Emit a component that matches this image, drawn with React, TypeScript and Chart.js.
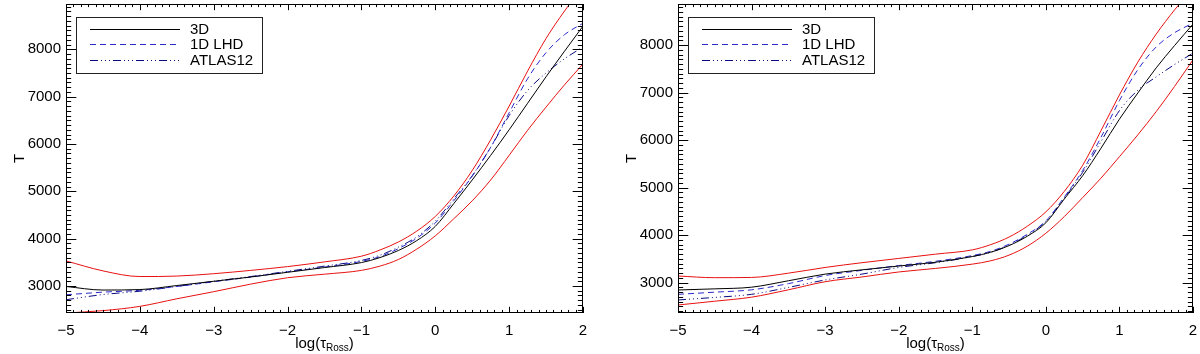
import React, { useEffect, useRef } from "react";
import Chart from "chart.js/auto";

// ---------------- data ----------------
const LOG_TAU = [-5, -4.5, -4, -3.5, -3, -2.5, -2, -1.5, -1, -0.75, -0.5, -0.25, 0, 0.25, 0.5, 0.75, 1, 1.25, 1.5, 1.75, 2];

// left panel
const L_3D = [2990, 2915, 2925, 3010, 3100, 3190, 3290, 3390, 3495, 3600, 3750, 3960, 4260, 4740, 5240, 5760, 6300, 6860, 7420, 7960, 8490];
const L_1D = [2815, 2870, 2910, 2990, 3090, 3190, 3300, 3400, 3520, 3620, 3790, 4010, 4330, 4800, 5320, 5930, 6660, 7380, 7930, 8310, 8550];
const L_ATLAS = [2710, 2820, 2890, 2990, 3100, 3200, 3310, 3420, 3540, 3650, 3820, 4040, 4370, 4840, 5330, 5930, 6600, 7130, 7500, 7800, 8050];
const L_UPPER = [3530, 3320, 3200, 3210, 3260, 3330, 3410, 3510, 3630, 3760, 3930, 4160, 4470, 4900, 5440, 6090, 6800, 7540, 8230, 8810, 9330];
const L_LOWER = [2430, 2480, 2570, 2730, 2880, 3040, 3175, 3250, 3330, 3420, 3560, 3780, 4060, 4420, 4800, 5240, 5760, 6290, 6780, 7250, 7690];

// right panel
const R_3D = [2846, 2870, 2905, 3040, 3180, 3270, 3350, 3430, 3550, 3640, 3780, 3980, 4260, 4760, 5250, 5830, 6440, 6990, 7520, 7990, 8440];
const R_1D = [2755, 2800, 2850, 2980, 3150, 3260, 3360, 3450, 3570, 3660, 3810, 4020, 4300, 4800, 5360, 6060, 6830, 7480, 7960, 8260, 8460];
const R_ATLAS = [2636, 2690, 2755, 2900, 3057, 3180, 3320, 3420, 3550, 3640, 3790, 4000, 4290, 4780, 5320, 5970, 6620, 7050, 7330, 7590, 7830];
const R_UPPER = [3140, 3105, 3110, 3200, 3320, 3420, 3510, 3600, 3690, 3800, 3960, 4190, 4490, 4920, 5470, 6200, 6950, 7640, 8230, 8740, 9200];
const R_LOWER = [2530, 2610, 2695, 2850, 3020, 3120, 3225, 3300, 3390, 3460, 3580, 3770, 4040, 4390, 4790, 5200, 5650, 6110, 6600, 7130, 7690];

const X_TICKS = [-5, -4, -3, -2, -1, 0, 1, 2];
const Y_TICKS = [3000, 4000, 5000, 6000, 7000, 8000];
const X_MINOR_STEP = 0.1;
const Y_MINOR_STEP = 100;
const LEGEND_LABELS = ["3D", "1D LHD", "ATLAS12"];
const Y_TITLE = "T";

const FONT = "'Liberation Sans', Arial, Helvetica, sans-serif";

const fmtTick = (v: number) => (v < 0 ? "\u2212" + Math.abs(v) : String(v));

const idlPlugin = {
  id: "idlFrame",
  afterDatasetsDraw(chart: any) {
    const { ctx, chartArea } = chart;
    const { left, right, top, bottom } = chartArea;
    const xs = chart.scales.x;
    const ys = chart.scales.y;
    const w = right - left;
    const h = bottom - top;
    ctx.save();
    ctx.strokeStyle = "#000";
    ctx.lineWidth = 1;
    // frame
    ctx.strokeRect(Math.round(left) + 0.5, Math.round(top) + 0.5, Math.round(w) - 1, Math.round(h) - 1);
    // ticks
    const xMaj = 0.02 * h;
    const yMaj = 0.02 * w;
    ctx.beginPath();
    const nx = Math.round((xs.max - xs.min) / X_MINOR_STEP);
    for (let i = 0; i <= nx; i++) {
      const v = xs.min + i * X_MINOR_STEP;
      const px = Math.round(xs.getPixelForValue(v)) + 0.5;
      const major = Math.abs(v - Math.round(v)) < 1e-6;
      const len = major ? xMaj : xMaj / 2;
      ctx.moveTo(px, bottom);
      ctx.lineTo(px, bottom - len);
      ctx.moveTo(px, top);
      ctx.lineTo(px, top + len);
    }
    for (let v = Math.ceil(ys.min / Y_MINOR_STEP) * Y_MINOR_STEP; v <= ys.max; v += Y_MINOR_STEP) {
      const py = Math.round(ys.getPixelForValue(v)) + 0.5;
      const major = v % 1000 === 0;
      const len = major ? yMaj : yMaj / 2;
      ctx.moveTo(left, py);
      ctx.lineTo(left + len, py);
      ctx.moveTo(right, py);
      ctx.lineTo(right - len, py);
    }
    ctx.stroke();

    // legend
    const bx = Math.round(left) + 10;
    const by = 17;
    ctx.strokeStyle = "#222";
    ctx.strokeRect(bx + 0.5, by + 0.5, 186, 56);
    const rows = [29.5, 44.5, 60.5];
    ctx.font = `15px ${FONT}`;
    ctx.textBaseline = "middle";
    ctx.textAlign = "left";
    LEGEND_LABELS.forEach((lab, i) => {
      const ds = chart.data.datasets[i];
      ctx.save();
      ctx.strokeStyle = ds.borderColor;
      ctx.lineWidth = 1;
      ctx.setLineDash(ds.borderDash || []);
      ctx.beginPath();
      ctx.moveTo(bx + 14, rows[i]);
      ctx.lineTo(bx + 104, rows[i]);
      ctx.stroke();
      ctx.restore();
      ctx.fillStyle = "#000";
      ctx.fillText(lab, bx + 114, rows[i]);
    });

    // y title
    ctx.save();
    ctx.translate(left - 46, (top + bottom) / 2);
    ctx.rotate(-Math.PI / 2);
    ctx.textAlign = "center";
    ctx.textBaseline = "middle";
    ctx.fillStyle = "#000";
    ctx.font = `15px ${FONT}`;
    ctx.fillText(Y_TITLE, 0, 0);
    ctx.restore();

    // x title: log(τ_Ross)
    const big = `15px ${FONT}`;
    const small = `10px ${FONT}`;
    const parts = [
      { t: "log(\u03C4", f: big, dy: 0 },
      { t: "Ross", f: small, dy: 3 },
      { t: ")", f: big, dy: 0 },
    ];
    let total = 0;
    parts.forEach((p) => {
      ctx.font = p.f;
      total += ctx.measureText(p.t).width;
    });
    let cx = (left + right) / 2 - total / 2;
    const base = 348;
    ctx.textBaseline = "alphabetic";
    ctx.fillStyle = "#000";
    parts.forEach((p) => {
      ctx.font = p.f;
      ctx.fillText(p.t, cx, base + p.dy);
      cx += ctx.measureText(p.t).width;
    });
    ctx.restore();
  },
};

type PanelProps = {
  offset: number;
  s3d: number[];
  s1d: number[];
  sAtlas: number[];
  sUp: number[];
  sLow: number[];
  yMin: number;
  yMax: number;
  yAxisWidth: number;
  padRight: number;
};

const pts = (ys: number[]) => LOG_TAU.map((x, i) => ({ x, y: ys[i] }));

function Panel(p: PanelProps) {
  const ref = useRef<HTMLCanvasElement>(null);
  useEffect(() => {
    const common = {
      pointRadius: 0,
      borderWidth: 1,
      tension: 0.4,
      cubicInterpolationMode: "monotone" as const,
      fill: false,
    };
    const chart = new Chart(ref.current!, {
      type: "line",
      data: {
        datasets: [
          { ...common, label: LEGEND_LABELS[0], data: pts(p.s3d), borderColor: "#000000" },
          { ...common, label: LEGEND_LABELS[1], data: pts(p.s1d), borderColor: "#2a2acc", borderDash: [6, 4] },
          { ...common, label: LEGEND_LABELS[2], data: pts(p.sAtlas), borderColor: "#0a0a80", borderDash: [8, 3, 1, 3, 1, 3, 1, 3] },
          { ...common, label: "upper", data: pts(p.sUp), borderColor: "#e81010" },
          { ...common, label: "lower", data: pts(p.sLow), borderColor: "#e81010" },
        ],
      },
      options: {
        animation: false,
        responsive: false,
        devicePixelRatio: 1,
        layout: { padding: { top: 4, right: p.padRight, left: 0, bottom: 0 } },
        plugins: { legend: { display: false }, tooltip: { enabled: false } },
        scales: {
          x: {
            type: "linear",
            min: -5,
            max: 2,
            grid: { display: false, drawTicks: false },
            border: { display: false },
            afterBuildTicks: (s: any) => {
              s.ticks = X_TICKS.map((v) => ({ value: v }));
            },
            afterFit: (s: any) => {
              s.height = 41;
              s.paddingLeft = 0;
              s.paddingRight = 0;
            },
            ticks: {
              callback: (v: any) => fmtTick(Number(v)),
              font: { family: FONT, size: 15 },
              color: "#000",
              padding: 9,
              maxRotation: 0,
              autoSkip: false,
            },
          },
          y: {
            type: "linear",
            min: p.yMin,
            max: p.yMax,
            grid: { display: false, drawTicks: false },
            border: { display: false },
            afterBuildTicks: (s: any) => {
              s.ticks = Y_TICKS.map((v) => ({ value: v }));
            },
            afterFit: (s: any) => {
              s.width = p.yAxisWidth;
              s.paddingTop = 0;
              s.paddingBottom = 0;
            },
            ticks: {
              callback: (v: any) => String(v),
              font: { family: FONT, size: 15 },
              color: "#000",
              padding: 5,
              autoSkip: false,
            },
          },
        },
      },
      plugins: [idlPlugin],
    } as any);
    return () => chart.destroy();
  }, []);
  return (
    <canvas
      ref={ref}
      width={600}
      height={354}
      style={{ position: "absolute", left: p.offset, top: 0, width: 600, height: 354 }}
    />
  );
}

export default function App() {
  useEffect(() => {
    document.body.style.margin = "0";
    document.body.style.background = "#fff";
  }, []);
  return (
    <div style={{ position: "absolute", left: 0, top: 0, width: 1200, height: 354, background: "#fff" }}>
      <Panel offset={0} s3d={L_3D} s1d={L_1D} sAtlas={L_ATLAS} sUp={L_UPPER} sLow={L_LOWER} yMin={2430} yMax={8957} yAxisWidth={66} padRight={17} />
      <Panel offset={600} s3d={R_3D} s1d={R_1D} sAtlas={R_ATLAS} sUp={R_UPPER} sLow={R_LOWER} yMin={2362} yMax={8863} yAxisWidth={78} padRight={7} />
    </div>
  );
}
